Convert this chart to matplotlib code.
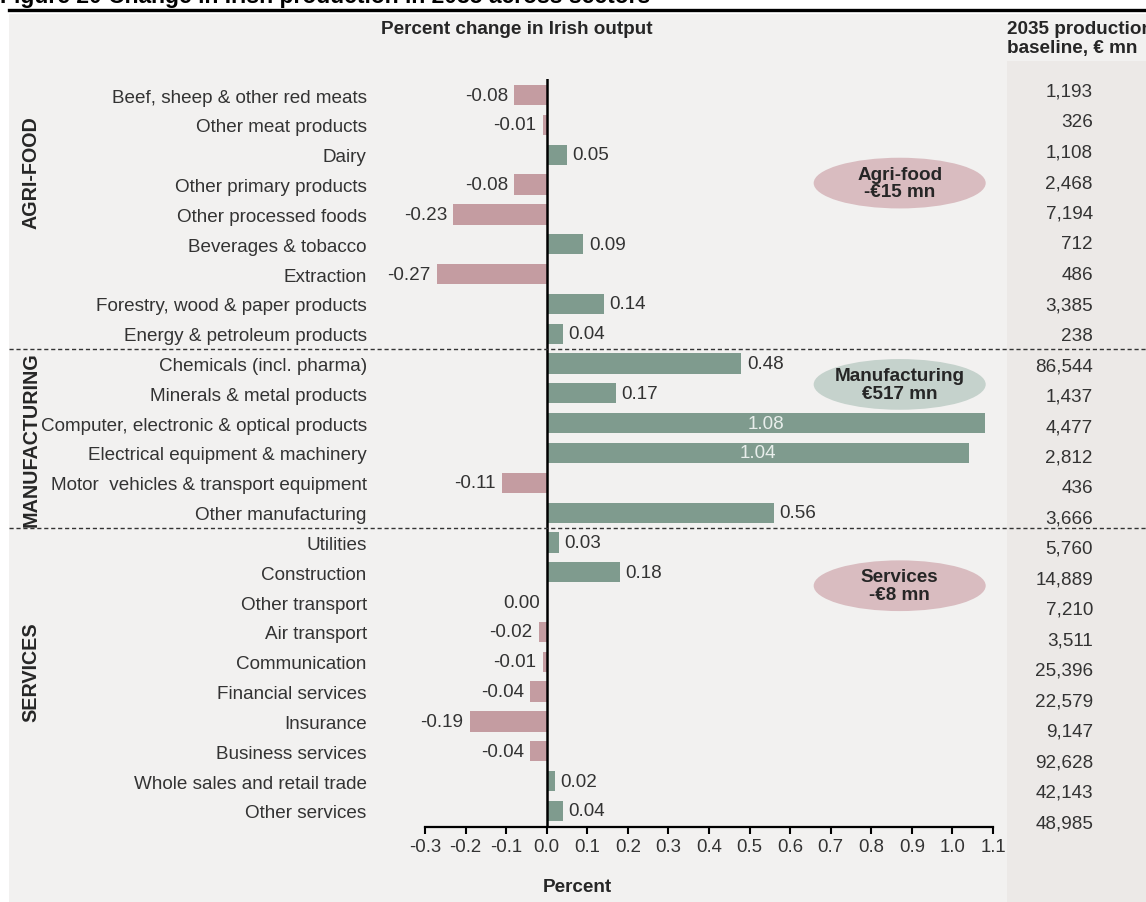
"""Sector output change chart with 2035 baseline column."""

import matplotlib

matplotlib.use("Agg")
import matplotlib.pyplot as plt
from matplotlib.patches import Ellipse, Rectangle
from matplotlib.transforms import blended_transform_factory

plt.rcParams["font.family"] = ["Liberation Sans", "DejaVu Sans"]

SECTORS = [
    "Beef, sheep & other red meats",
    "Other meat products",
    "Dairy",
    "Other primary products",
    "Other processed foods",
    "Beverages & tobacco",
    "Extraction",
    "Forestry, wood & paper products",
    "Energy & petroleum products",
    "Chemicals (incl. pharma)",
    "Minerals & metal products",
    "Computer, electronic & optical products",
    "Electrical equipment & machinery",
    "Motor  vehicles & transport equipment",
    "Other manufacturing",
    "Utilities",
    "Construction",
    "Other transport",
    "Air transport",
    "Communication",
    "Financial services",
    "Insurance",
    "Business services",
    "Whole sales and retail trade",
    "Other services",
]
PCT_CHANGE = [
    -0.08, -0.01, 0.05, -0.08, -0.23, 0.09, -0.27, 0.14, 0.04,
    0.48, 0.17, 1.08, 1.04, -0.11, 0.56,
    0.03, 0.18, 0.00, -0.02, -0.01, -0.04, -0.19, -0.04, 0.02, 0.04,
]
BASELINE_2035 = [
    1193, 326, 1108, 2468, 7194, 712, 486, 3385, 238,
    86544, 1437, 4477, 2812, 436, 3666,
    5760, 14889, 7210, 3511, 25396, 22579, 9147, 92628, 42143, 48985,
]
GROUP_NAMES = ["AGRI-FOOD", "MANUFACTURING", "SERVICES"]
GROUP_TOTALS = ["Agri-food\n-€15 mn", "Manufacturing\n€517 mn", "Services\n-€8 mn"]
GROUP_BREAKS = [8.5, 14.5]
X_TICKS = [-0.3, -0.2, -0.1, 0.0, 0.1, 0.2, 0.3, 0.4, 0.5, 0.6, 0.7, 0.8, 0.9, 1.0, 1.1]

POS_COLOUR = "#7F9B8E"
NEG_COLOUR = "#C49CA1"
ELLIPSE_COLOURS = ["#D9BCC0", "#C5D2CC", "#D9BCC0"]
TEXT = "#333333"
DARK = "#262626"
BG = "#F2F1F0"
COL_BG = "#ECE9E7"
FS = 13.6

W, H = 1146, 903


def fx(px):
    return px / W


def fy(py):
    return 1 - py / H


fig = plt.figure(figsize=(W / 100, H / 100), dpi=100)
fig.patch.set_facecolor("white")
fig.patches.append(Rectangle((fx(9), 0), 1, fy(15), transform=fig.transFigure,
                             facecolor=BG, edgecolor="none", zorder=-2))
fig.patches.append(Rectangle((fx(1007), 0), 1, fy(62), transform=fig.transFigure,
                             facecolor=COL_BG, edgecolor="none", zorder=-1))
fig.add_artist(plt.Line2D([fx(9), 1], [fy(11), fy(11)], transform=fig.transFigure,
                          color="black", lw=2.4))
fig.text(0, fy(3), "Figure 20 Change in Irish production in 2035 across sectors",
         fontsize=16.5, fontweight="bold", va="baseline", ha="left", color="black")

ax = fig.add_axes([fx(425), fy(828), fx(993) - fx(425), fy(80) - fy(828)])
ax.set_facecolor("none")

rows = list(range(len(SECTORS)))
colours = [POS_COLOUR if v > 0 else NEG_COLOUR for v in PCT_CHANGE]
ax.barh(rows, PCT_CHANGE, height=0.68, color=colours, zorder=2)
ax.axvline(0, color="black", lw=1.8, zorder=3)

for y, v in zip(rows, PCT_CHANGE):
    label = f"{v:.2f}"
    if v >= 1.0:
        ax.text(v / 2, y, label, ha="center", va="center", fontsize=FS,
                color="#E8EEEB", zorder=4)
    elif v > 0:
        ax.annotate(label, (v, y), xytext=(4, 0), textcoords="offset points",
                    ha="left", va="center", fontsize=FS, color=TEXT)
    else:
        ax.annotate(label, (v, y), xytext=(-4.5, 0), textcoords="offset points",
                    ha="right", va="center", fontsize=FS, color=TEXT)

ax.set_xlim(-0.3, 1.1)
ax.set_ylim(len(SECTORS) - 0.46, -0.54)
ax.set_xticks(X_TICKS)
ax.set_xticklabels([f"{t:.1f}" for t in X_TICKS], fontsize=13.4, color=TEXT)
ax.set_yticks(rows)
ax.set_yticklabels(SECTORS, fontsize=FS, color=TEXT)
ax.tick_params(axis="y", length=0, pad=42)
ax.tick_params(axis="x", length=5, width=1.5, pad=3, color="black")
for side in ("top", "right", "left"):
    ax.spines[side].set_visible(False)
ax.spines["bottom"].set_linewidth(1.6)

# dashed group separators run across the whole panel
trans = blended_transform_factory(fig.transFigure, ax.transData)
for yb in GROUP_BREAKS:
    ax.plot([fx(9), 1], [yb, yb], transform=trans, color="#333333", lw=1,
            ls=(0, (3, 2)), clip_on=False, zorder=5)

# group labels down the left edge
label_rows = [2.55, 11.53, 19.3]
for name, yr in zip(GROUP_NAMES, label_rows):
    ax.text(fx(31), yr, name, transform=trans, rotation=90, ha="center",
            va="center", fontsize=14.2, fontweight="bold", color=DARK)

# group total bubbles
bubble_rows = [2.95, 9.7, 16.45]
for txt, yr, col in zip(GROUP_TOTALS, bubble_rows, ELLIPSE_COLOURS):
    ax.add_patch(Ellipse((0.87, yr), 0.424, 1.7, facecolor=col, edgecolor="none",
                         zorder=1))
    ax.text(0.87, yr, txt, ha="center", va="center", fontsize=FS,
            fontweight="bold", color=DARK, linespacing=1.05, zorder=2)

fig.text(fx(517), fy(30), "Percent change in Irish output", ha="center",
         va="center", fontsize=FS, fontweight="bold", color=DARK)
fig.text(fx(577), fy(888), "Percent", ha="center", va="center", fontsize=FS,
         fontweight="bold", color=DARK)

# baseline column on the right
ax_col = fig.add_axes([fx(1007), fy(839), fx(1093) - fx(1007), fy(77) - fy(839)])
ax_col.set_axis_off()
ax_col.set_xlim(0, 1)
ax_col.set_ylim(len(BASELINE_2035) - 0.5, -0.5)
for y, b in enumerate(BASELINE_2035):
    ax_col.text(1, y, f"{b:,}", ha="right", va="center", fontsize=FS, color=TEXT)
fig.text(fx(1007), fy(39), "2035 production\nbaseline, € mn", ha="left",
         va="center", fontsize=FS, fontweight="bold", color=DARK,
         linespacing=1.15)

fig.savefig("out.png", dpi=100, facecolor=fig.get_facecolor())
